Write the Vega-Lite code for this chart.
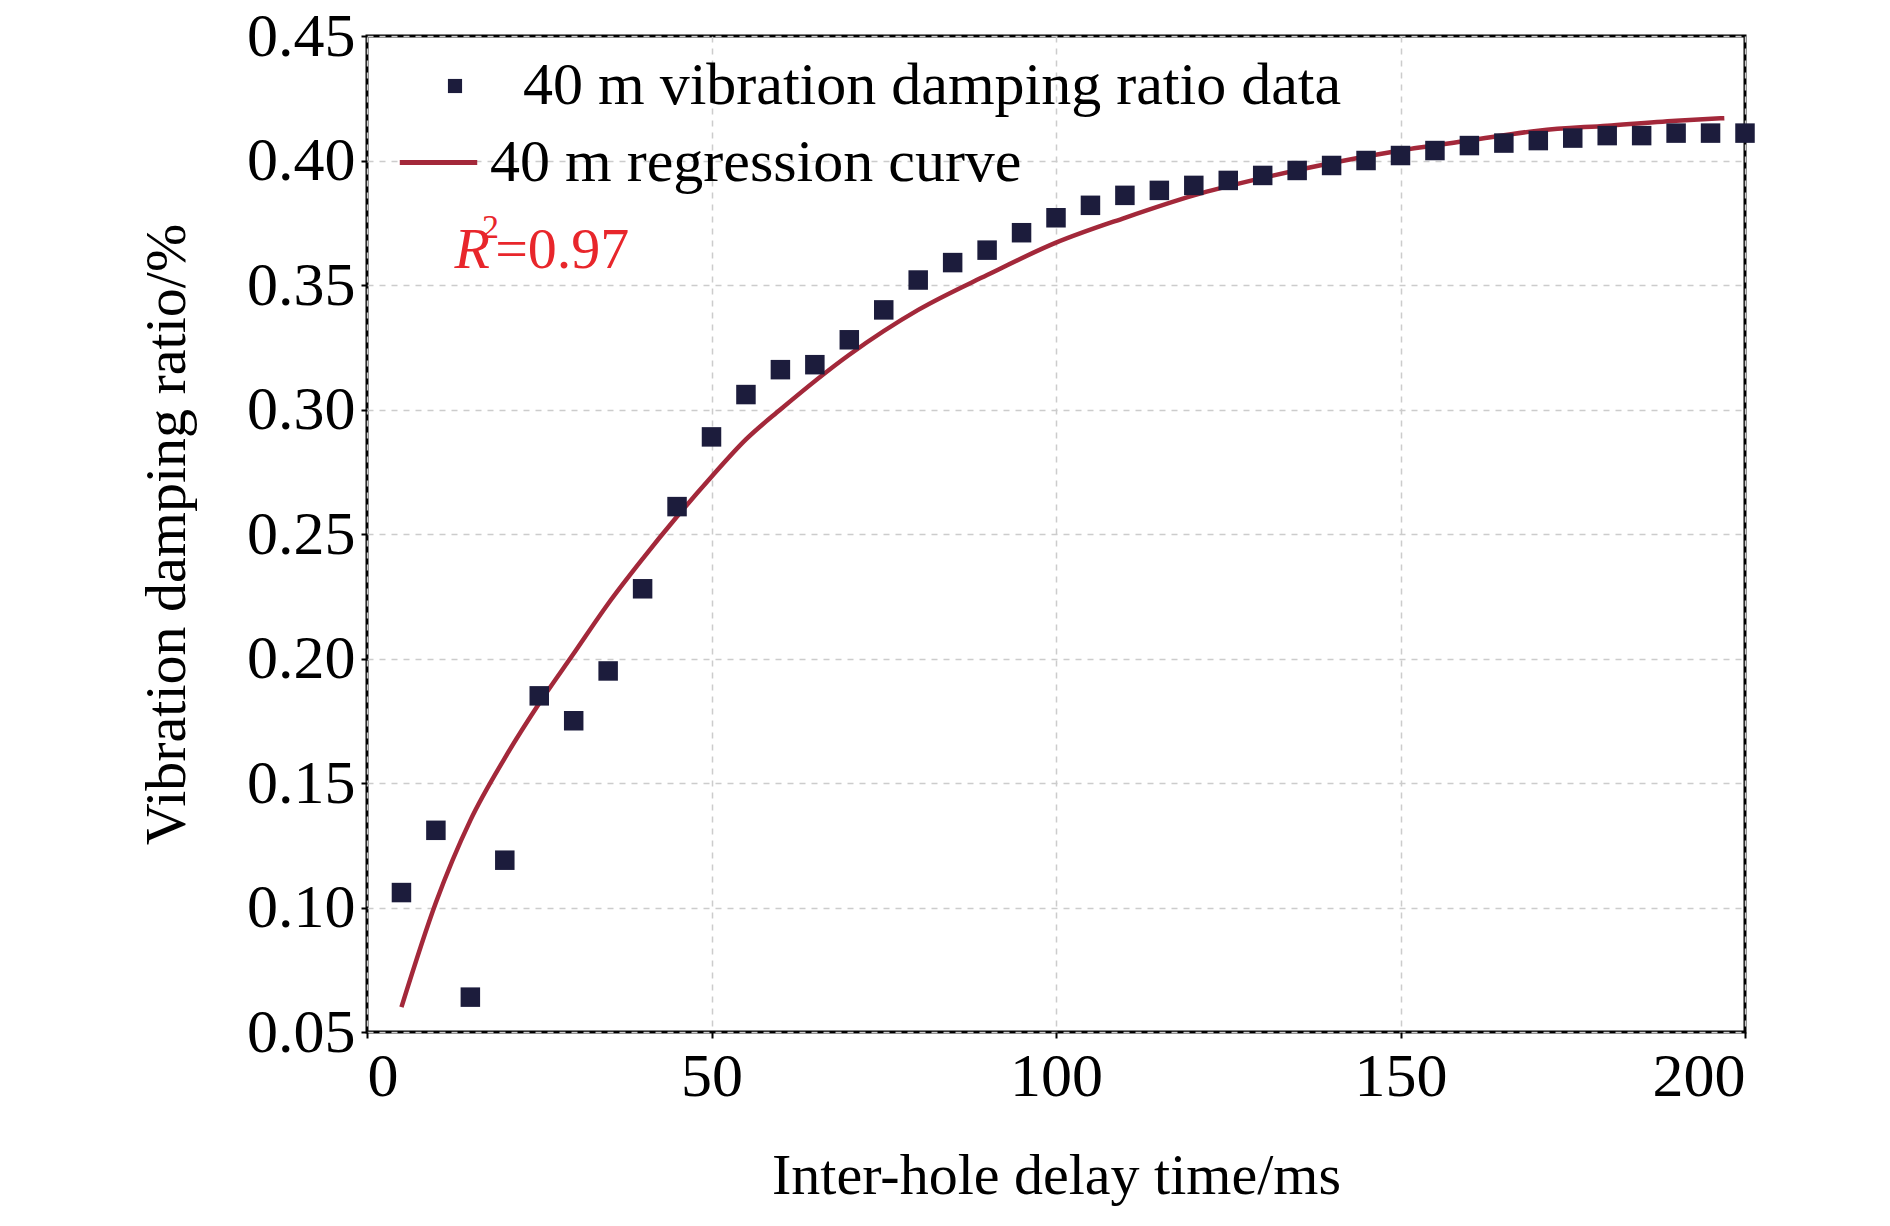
{
  "$schema": "https://vega.github.io/schema/vega-lite/v6.json",
  "width": 1378,
  "height": 996,
  "autosize": "none",
  "padding": {"left": 367, "top": 36, "right": 145, "bottom": 194},
  "background": "white",
  "datasets": {
    "pts": [
      {"t": 5, "r": 0.106}, {"t": 10, "r": 0.131}, {"t": 15, "r": 0.064}, {"t": 20, "r": 0.119},
      {"t": 25, "r": 0.185}, {"t": 30, "r": 0.175}, {"t": 35, "r": 0.195}, {"t": 40, "r": 0.228},
      {"t": 45, "r": 0.261}, {"t": 50, "r": 0.289}, {"t": 55, "r": 0.306}, {"t": 60, "r": 0.316},
      {"t": 65, "r": 0.318}, {"t": 70, "r": 0.328}, {"t": 75, "r": 0.340}, {"t": 80, "r": 0.352},
      {"t": 85, "r": 0.359}, {"t": 90, "r": 0.364}, {"t": 95, "r": 0.371}, {"t": 100, "r": 0.377},
      {"t": 105, "r": 0.382}, {"t": 110, "r": 0.386}, {"t": 115, "r": 0.388}, {"t": 120, "r": 0.390},
      {"t": 125, "r": 0.392}, {"t": 130, "r": 0.394}, {"t": 135, "r": 0.396}, {"t": 140, "r": 0.398},
      {"t": 145, "r": 0.400}, {"t": 150, "r": 0.402}, {"t": 155, "r": 0.404}, {"t": 160, "r": 0.406},
      {"t": 165, "r": 0.407}, {"t": 170, "r": 0.408}, {"t": 175, "r": 0.409}, {"t": 180, "r": 0.410},
      {"t": 185, "r": 0.410}, {"t": 190, "r": 0.411}, {"t": 195, "r": 0.411}, {"t": 200, "r": 0.411}
    ],
    "fit": [
      {"t": 5, "r": 0.060}, {"t": 10, "r": 0.102}, {"t": 15, "r": 0.135}, {"t": 20, "r": 0.160},
      {"t": 25, "r": 0.182}, {"t": 30, "r": 0.202}, {"t": 35, "r": 0.222}, {"t": 40, "r": 0.240},
      {"t": 45, "r": 0.257}, {"t": 50, "r": 0.273}, {"t": 55, "r": 0.288}, {"t": 60, "r": 0.300},
      {"t": 70, "r": 0.322}, {"t": 80, "r": 0.340}, {"t": 90, "r": 0.354}, {"t": 100, "r": 0.367},
      {"t": 110, "r": 0.377}, {"t": 120, "r": 0.386}, {"t": 130, "r": 0.393}, {"t": 140, "r": 0.399},
      {"t": 150, "r": 0.404}, {"t": 160, "r": 0.408}, {"t": 170, "r": 0.412}, {"t": 180, "r": 0.414},
      {"t": 190, "r": 0.416}, {"t": 197, "r": 0.417}
    ],
    "notes": [
      {"t": 12.7, "r": 0.357, "s": "R", "k": "r"},
      {"t": 16.7, "r": 0.369, "s": "2", "k": "sup"},
      {"t": 18.6, "r": 0.357, "s": "=0.97", "k": "eq"}
    ]
  },
  "encoding": {
    "x": {
      "field": "t", "type": "quantitative",
      "scale": {"domain": [0, 200], "nice": false},
      "axis": {"values": [0, 50, 100, 150, 200], "title": "Inter-hole delay time/ms", "titlePadding": 40, "labelPadding": 8}
    },
    "y": {
      "field": "r", "type": "quantitative",
      "scale": {"domain": [0.05, 0.45], "nice": false, "zero": false},
      "axis": {"values": [0.05, 0.1, 0.15, 0.2, 0.25, 0.3, 0.35, 0.4, 0.45], "format": ".2f", "title": "Vibration damping ratio/%", "titlePadding": 50, "labelPadding": 6}
    }
  },
  "layer": [
    {
      "data": {"name": "fit"},
      "mark": {"type": "line", "strokeWidth": 4.5, "interpolate": "monotone"},
      "encoding": {
        "color": {
          "datum": "40 m regression curve", "type": "nominal",
          "scale": {"range": ["#a3283a"]},
          "legend": {"orient": "none", "legendX": 30, "legendY": 85, "title": null, "symbolType": "stroke", "symbolSize": 6000, "symbolStrokeWidth": 5, "labelFontSize": 60, "labelFont": "Liberation Serif", "labelColor": "black", "labelOffset": 10, "labelLimit": 0}
        }
      }
    },
    {
      "data": {"name": "pts"},
      "mark": {"type": "point", "shape": "square", "filled": true, "size": 380, "color": "#1c1c3c", "opacity": 1},
      "encoding": {
        "shape": {
          "datum": "40 m vibration damping ratio data", "type": "nominal",
          "scale": {"range": ["square"]},
          "legend": {"orient": "none", "legendX": 58, "legendY": 20, "title": null, "symbolSize": 200, "symbolFillColor": "#1c1c3c", "symbolStrokeColor": "#1c1c3c", "symbolOpacity": 1, "labelFontSize": 60, "labelFont": "Liberation Serif", "labelColor": "black", "labelOffset": 38, "labelLimit": 0}
        }
      }
    },
    {
      "data": {"name": "notes"},
      "transform": [{"filter": "datum.k == 'r'"}],
      "mark": {"type": "text", "align": "left", "baseline": "alphabetic", "fontSize": 58, "font": "Liberation Serif", "fontStyle": "italic", "color": "#e8262b"},
      "encoding": {"text": {"field": "s"}}
    },
    {
      "data": {"name": "notes"},
      "transform": [{"filter": "datum.k == 'sup'"}],
      "mark": {"type": "text", "align": "left", "baseline": "alphabetic", "fontSize": 34, "font": "Liberation Serif", "color": "#e8262b"},
      "encoding": {"text": {"field": "s"}}
    },
    {
      "data": {"name": "notes"},
      "transform": [{"filter": "datum.k == 'eq'"}],
      "mark": {"type": "text", "align": "left", "baseline": "alphabetic", "fontSize": 58, "font": "Liberation Serif", "color": "#e8262b"},
      "encoding": {"text": {"field": "s"}}
    }
  ],
  "resolve": {"legend": {"color": "independent", "shape": "independent"}},
  "config": {
    "view": {"stroke": "black", "strokeWidth": 3},
    "font": "Liberation Serif",
    "axis": {
      "labelFont": "Liberation Serif", "titleFont": "Liberation Serif",
      "labelFontSize": 62, "titleFontSize": 58, "titleFontWeight": "normal",
      "labelColor": "black", "titleColor": "black",
      "domain": false, "tickColor": "black", "tickSize": 6, "tickWidth": 2,
      "gridColor": "#cccccc", "gridDash": [6, 6], "gridWidth": 1.5
    }
  }
}
